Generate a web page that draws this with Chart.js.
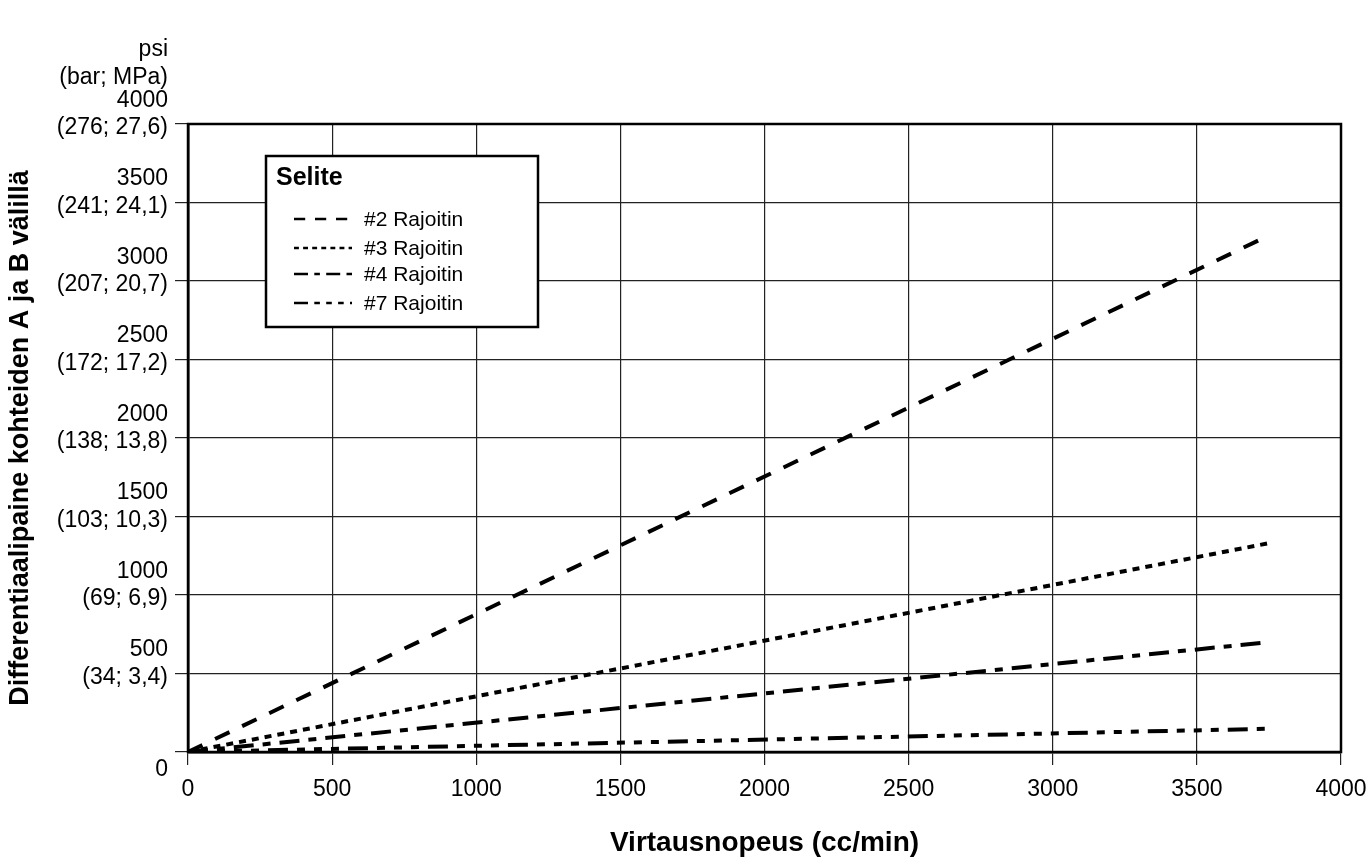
<!DOCTYPE html>
<html>
<head>
<meta charset="utf-8">
<script src="https://cdn.jsdelivr.net/npm/chart.js@4.4.1/dist/chart.umd.min.js"></script>
<style>
	body { margin: 0; background: #fff; }
	#wrap { width: 1371px; height: 864px; }
</style>
</head>
<body>
<div id="wrap"><canvas id="line-chartcanvas"></canvas></div>
<script>
// flow rate (cc/min) at start and end of each restrictor line
var flowRate = [0, 3750];
var restrictor2 = [0, 3290];
var restrictor3 = [0, 1330];
var restrictor4 = [0, 700];
var restrictor7 = [0, 148];

var seriesLabels = ["#2 Rajoitin", "#3 Rajoitin", "#4 Rajoitin", "#7 Rajoitin"];
var psiTicks = [0, 500, 1000, 1500, 2000, 2500, 3000, 3500, 4000];
var metricTicks = ["", "(34; 3,4)", "(69; 6,9)", "(103; 10,3)", "(138; 13,8)",
	"(172; 17,2)", "(207; 20,7)", "(241; 24,1)", "(276; 27,6)"];
var unitHeader = ["psi", "(bar; MPa)"];
var legendTitle = "Selite";

var FONT = '"Liberation Sans", Arial, Helvetica, sans-serif';

function points(ys) {
	return flowRate.map(function(x, i) { return { x: x, y: ys[i] }; });
}

function makeSet(label, ys, dash) {
	return {
		label : label,
		data : points(ys),
		borderColor : "#000",
		backgroundColor : "#000",
		borderWidth : 4,
		borderDash : dash,
		borderCapStyle : "butt",
		pointRadius : 0,
		fill : false,
		tension : 0
	};
}

// frame, unit header and the boxed legend
var extras = {
	id : "extras",
	afterDraw : function(chart) {
		var ctx = chart.ctx;
		var a = chart.chartArea;
		ctx.save();
		ctx.strokeStyle = "#000";
		ctx.lineWidth = 2.5;
		ctx.strokeRect(a.left, a.top, a.right - a.left, a.bottom - a.top);

		ctx.fillStyle = "#000";
		ctx.font = "23px " + FONT;
		ctx.textAlign = "right";
		ctx.textBaseline = "middle";
		ctx.fillText(unitHeader[0], a.left - 20, 50);
		ctx.fillText(unitHeader[1], a.left - 20, 78);

		// legend box
		var bx = a.left + 78, by = a.top + 32, bw = 272, bh = 171;
		ctx.fillStyle = "#fff";
		ctx.fillRect(bx, by, bw, bh);
		ctx.lineWidth = 2.5;
		ctx.strokeRect(bx, by, bw, bh);
		ctx.fillStyle = "#000";
		ctx.textAlign = "left";
		ctx.font = "bold 25px " + FONT;
		ctx.fillText(legendTitle, bx + 10, by + 22);

		var rows = [63, 92, 118, 147];
		ctx.font = "21px " + FONT;
		chart.data.datasets.forEach(function(ds, i) {
			var y = by + rows[i];
			ctx.beginPath();
			ctx.setLineDash(ds.borderDash.map(function(d) { return d * 0.7; }));
			ctx.lineWidth = 2.5;
			ctx.moveTo(bx + 28, y);
			ctx.lineTo(bx + 86, y);
			ctx.stroke();
			ctx.setLineDash([]);
			ctx.fillText(ds.label, bx + 98, y + 1);
		});
		ctx.restore();
	}
};

var ctx = document.getElementById("line-chartcanvas");

var data = {
	datasets : [
		makeSet(seriesLabels[0], restrictor2, [16, 14]),
		makeSet(seriesLabels[1], restrictor3, [7, 6]),
		makeSet(seriesLabels[2], restrictor4, [20, 9, 8, 9]),
		makeSet(seriesLabels[3], restrictor7, [20, 9, 8, 9, 8, 9, 8, 9])
	]
};

var options = {
	responsive : true,
	maintainAspectRatio : false,
	animation : false,
	layout : {
		padding : { top : 124, right : 0, left : 0, bottom : 0 }
	},
	plugins : {
		legend : { display : false },
		tooltip : { enabled : false }
	},
	scales : {
		x : {
			type : "linear",
			min : 0,
			max : 4000,
			afterFit : function(scale) { scale.height = 112; scale.paddingRight = 30; },
			ticks : {
				stepSize : 500,
				autoSkip : false,
				padding : 11,
				color : "#000",
				maxRotation : 0,
				font : { family : FONT, size : 23 },
				callback : function(value) { return String(value); }
			},
			grid : {
				color : "#222",
				lineWidth : 1.2,
				tickLength : 13
			},
			border : { color : "#000", width : 2.5 },
			title : {
				display : true,
				text : "Virtausnopeus (cc/min)",
				color : "#000",
				font : { family : FONT, size : 28, weight : "bold" },
				padding : { top : 0, bottom : 4 }
			}
		},
		y : {
			type : "linear",
			min : 0,
			max : 4000,
			afterFit : function(scale) { scale.width = 188; },
			ticks : {
				stepSize : 500,
				autoSkip : false,
				padding : 7,
				labelOffset : -10,
				color : "#000",
				font : { family : FONT, size : 23, lineHeight : 1.2 },
				callback : function(value) {
					var i = psiTicks.indexOf(value);
					if (i < 0) return "";
					if (value === 0) return ["", "", "0"];
					return [String(value), metricTicks[i]];
				}
			},
			grid : {
				color : "#222",
				lineWidth : 1.2,
				tickLength : 13
			},
			border : { color : "#000", width : 2.5 },
			title : {
				display : true,
				text : "Differentiaalipaine kohteiden A ja B välillä",
				color : "#000",
				font : { family : FONT, size : 27, weight : "bold" },
				padding : { top : 4, bottom : 0 }
			}
		}
	}
};

var chart = new Chart(ctx, {
	type : "line",
	data : data,
	options : options,
	plugins : [extras]
});
</script>
</body>
</html>
